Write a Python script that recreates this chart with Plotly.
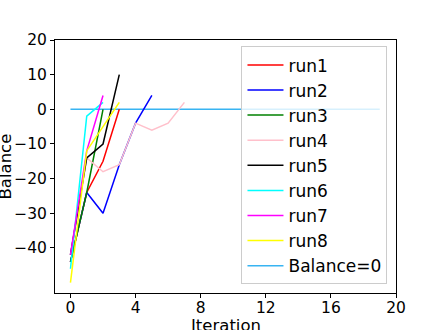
import plotly.graph_objects as go

# Balance per iteration for each run
run_names = ["run1", "run2", "run3", "run4", "run5", "run6", "run7", "run8"]
run_colors = ["red", "blue", "green", "pink", "black", "cyan", "magenta", "yellow"]
run_balances = [
    [-44, -24, -15, 0],
    [-44, -24, -30, -16, -4, 4],
    [-44, -24, 0],
    [-42, -14, -18, -16, -4, -6, -4, 2],
    [-42, -14, -10, 10],
    [-46, -2, 2],
    [-42, -12, 4],
    [-50, -12, -5, 2],
]
zero_iters = list(range(20))
zero_vals = [0] * 20

x_ticks = [0, 4, 8, 12, 16, 20]
y_ticks = [20, 10, 0, -10, -20, -30, -40]

fig = go.Figure()

# reference line goes underneath the runs, but last in the legend
fig.add_trace(go.Scatter(
    x=zero_iters, y=zero_vals, mode="lines", name="Balance=0",
    line=dict(color="#38b4f2", width=1.5), legendrank=2000,
))

for i, (name, color, vals) in enumerate(zip(run_names, run_colors, run_balances)):
    fig.add_trace(go.Scatter(
        x=list(range(len(vals))), y=vals, mode="lines", name=name,
        line=dict(color=color, width=1.5), legendrank=1000 + i,
    ))

axis_style = dict(
    showline=True, linecolor="black", linewidth=1, mirror=True,
    ticks="outside", ticklen=4, tickcolor="black",
    showgrid=False, zeroline=False,
    tickfont=dict(size=15.5, color="black"),
)

fig.update_xaxes(range=[-0.95, 20.0], tickvals=x_ticks, ticklabelstandoff=-4, **axis_style)
fig.update_yaxes(range=[-53, 20], tickvals=y_ticks, **axis_style)

# axis titles as annotations so they sit where the reference has them
fig.add_annotation(
    text="Iteration", xref="paper", yref="paper", x=0.5, y=0,
    xanchor="center", yanchor="top", yshift=-21, showarrow=False,
    font=dict(size=16.5, color="black"),
)
fig.add_annotation(
    text="Balance", xref="paper", yref="paper", x=0, y=0.5,
    xanchor="center", yanchor="middle", xshift=-50, textangle=-90,
    showarrow=False, font=dict(size=16.5, color="black"),
)

fig.update_layout(
    width=440, height=330,
    margin=dict(l=55, r=44, t=40, b=37, autoexpand=False),
    paper_bgcolor="white", plot_bgcolor="white",
    font=dict(family="DejaVu Sans", color="black"),
    legend=dict(
        x=0.975, y=0.975, xanchor="right", yanchor="top",
        bgcolor="rgba(255,255,255,0.8)", bordercolor="#cccccc", borderwidth=1,
        font=dict(size=17), itemwidth=36,
    ),
    showlegend=True,
)

# drop the default 8px page margin so the figure sits at the window corner
fig.write_html(
    "out.html",
    config={"displayModeBar": False},
    post_script="document.body.style.margin='0';",
)
